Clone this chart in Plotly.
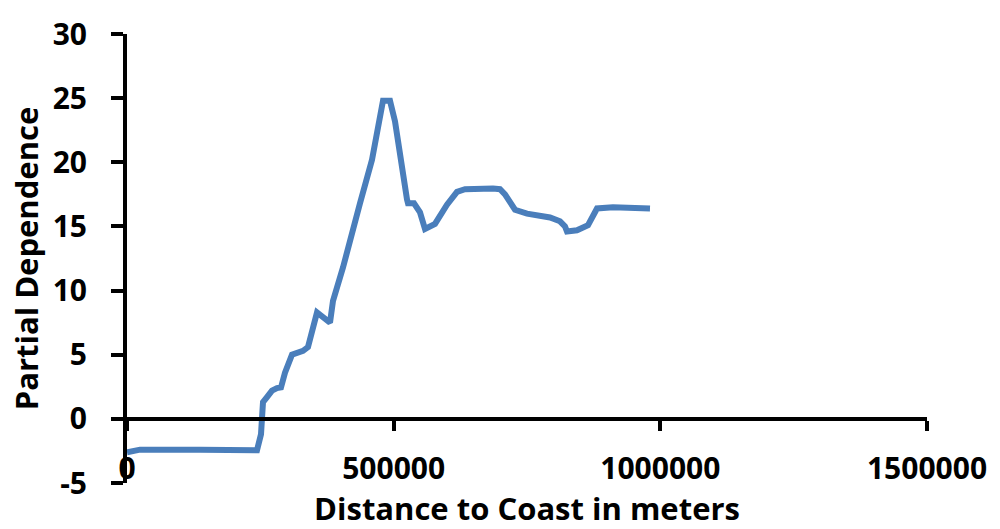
import plotly.graph_objects as go

# Partial dependence of the response on distance to coast
distance_m = [0, 24375, 136875, 243750, 251250, 255000, 262500, 271875, 281250,
              288750, 296250, 309375, 330000, 339375, 356250, 380625, 386250,
              405000, 436875, 442500, 455625, 459375, 480000, 493125, 502500,
              511875, 525000, 526875, 538125, 549375, 558750, 577500, 600000,
              618750, 633750, 686250, 699375, 708750, 727500, 750000, 774375,
              793125, 811875, 821250, 825000, 843750, 864375, 873750, 881250,
              911250, 980625]
partial_dep = [-2.6, -2.4, -2.4, -2.45, -1.2, 1.3, 1.7, 2.2, 2.4,
               2.45, 3.6, 5.0, 5.3, 5.6, 8.3, 7.5, 9.2,
               11.8, 16.8, 17.6, 19.4, 20.2, 24.8, 24.8, 23.2,
               20.3, 17.1, 16.8, 16.8, 16.1, 14.8, 15.2, 16.7,
               17.7, 17.9, 17.95, 17.9, 17.5, 16.3, 16.0, 15.8,
               15.7, 15.4, 15.0, 14.6, 14.7, 15.1, 15.8, 16.4,
               16.5, 16.4]

x_range = [0, 1500000]
y_range = [-5, 30]
x_ticks = [0, 500000, 1000000, 1500000]
y_ticks = [-5, 0, 5, 10, 15, 20, 25, 30]
y_ticktext = ["-5", "0", "5", "10", "15", "20", "25", "30"]

FONT = "Open Sans"
BLUE = "#4A7EBB"

fig = go.Figure()
fig.add_trace(go.Scatter(
    x=distance_m, y=partial_dep, mode="lines",
    line=dict(color=BLUE, width=6), showlegend=False, hoverinfo="skip",
    xaxis="x", yaxis="y",
))
# invisible companion so the label axis is drawn
fig.add_trace(go.Scatter(
    x=[x_range[0]], y=[y_range[0]], mode="markers", marker=dict(opacity=0),
    showlegend=False, hoverinfo="skip", xaxis="x2", yaxis="y",
))

tick_font = dict(family=FONT, size=30, color="black", weight="bold")
title_font = dict(family=FONT, size=31, color="black", weight="bold")

fig.update_layout(
    width=1000, height=529,
    margin=dict(l=127, r=73, t=25, b=46),
    paper_bgcolor="white", plot_bgcolor="white",
    font=dict(family=FONT, color="black"),
    # axis line crossing at y = 0, ticks only
    xaxis=dict(
        range=x_range, tickvals=x_ticks, showticklabels=False,
        anchor="free", position=(0 - y_range[0]) / (y_range[1] - y_range[0]),
        showline=True, linecolor="black", linewidth=4,
        ticks="outside", ticklen=10, tickwidth=4, tickcolor="black",
        showgrid=False, zeroline=False,
    ),
    # tick labels and title along the bottom
    xaxis2=dict(
        range=x_range, tickvals=x_ticks, ticktext=[str(v) for v in x_ticks],
        overlaying="x", anchor="free", position=0.078,
        showline=False, ticks="", showgrid=False, zeroline=False,
        tickfont=tick_font,
        title=dict(text="Distance to Coast in meters", font=title_font,
                   standoff=3),
    ),
    yaxis=dict(
        range=y_range, tickvals=y_ticks, ticktext=y_ticktext,
        showline=True, linecolor="black", linewidth=4,
        ticks="outside", ticklen=12, tickwidth=4, tickcolor="black",
        showgrid=False, zeroline=False,
        tickfont=tick_font, ticklabelstandoff=18,
        title=dict(text="Partial Dependence", font=title_font, standoff=6),
    ),
)

fig.write_html("out.html")
